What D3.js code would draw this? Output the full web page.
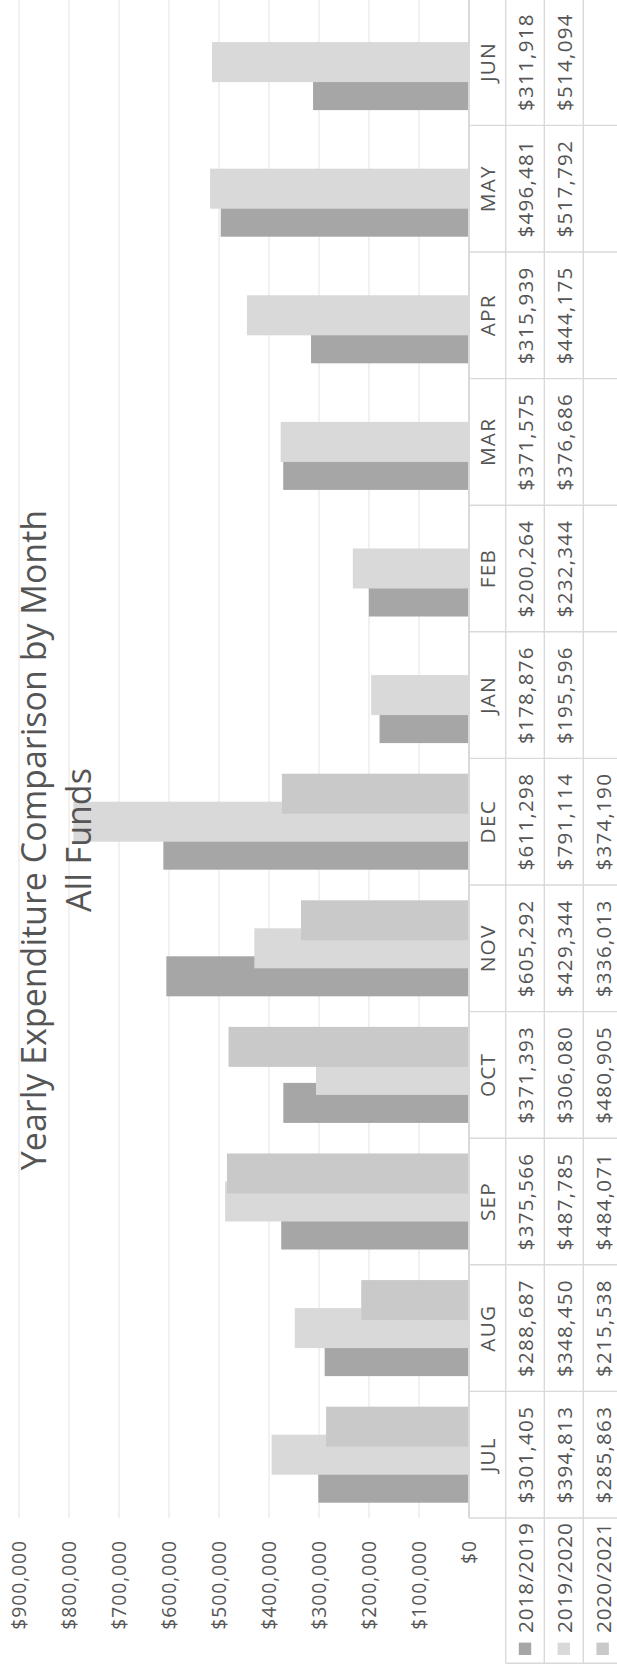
<!DOCTYPE html>
<html>
<head>
<meta charset="utf-8">
<script src="https://cdn.jsdelivr.net/npm/d3@7"></script>
<style>
  html, body { margin: 0; padding: 0; background: #fff; }
  svg { display: block; }
  text { font-family: "Open Sans", "Noto Sans", sans-serif; fill: #555555; }
</style>
</head>
<body>
<script>
// ---- data ----
const months = ["JUL","AUG","SEP","OCT","NOV","DEC","JAN","FEB","MAR","APR","MAY","JUN"];
const seriesNames = ["2018/2019","2019/2020","2020/2021"];
const fy2018 = [301405,288687,375566,371393,605292,611298,178876,200264,371575,315939,496481,311918];
const fy2019 = [394813,348450,487785,306080,429344,791114,195596,232344,376686,444175,517792,514094];
const fy2020 = [285863,215538,484071,480905,336013,374190,null,null,null,null,null,null];
const yTicks = [0,100000,200000,300000,400000,500000,600000,700000,800000,900000];
const titleLines = ["Yearly Expenditure Comparison by Month","All Funds"];
const colors = ["#a6a6a6","#d9d9d9","#c9c9c9"];

const series = [fy2018, fy2019, fy2020];

// ---- layout (chart drawn landscape, then rotated -90deg) ----
const W = 1669, H = 617;
const plotLeft = 151, bandW = 126.6;
const plotRight = plotLeft + bandW * months.length;
const yTop = 19, yBase = 469;
const rowEdges = [469, 505.7, 544.3, 583.3, 622];

const svg = d3.select("body").append("svg")
  .attr("width", H).attr("height", W);
const g = svg.append("g").attr("transform", `translate(0,${W}) rotate(-90)`);

const x = d3.scaleBand().domain(months).range([plotLeft, plotRight]).padding(0);
const y = d3.scaleLinear().domain([0, 900000]).range([yBase, yTop]);

// gridlines
g.append("g").selectAll("line").data(yTicks.filter(d => d > 0)).join("line")
  .attr("x1", plotLeft).attr("x2", plotRight)
  .attr("y1", d => y(d)).attr("y2", d => y(d))
  .attr("stroke", "#ececec").attr("stroke-width", 1.5);

// y axis labels
const yAxis = d3.axisLeft(y).tickValues(yTicks).tickSize(0).tickPadding(22)
  .tickFormat(d => "$" + d3.format(",")(d));
const ya = g.append("g").attr("transform", `translate(${plotLeft},0)`).call(yAxis);
ya.select(".domain").remove();
ya.selectAll("text").attr("font-size", 19.3).attr("letter-spacing", 0.95)
  .attr("fill", "#555555").style("font-family", '"Open Sans", sans-serif');

// bars
const bw = bandW * 0.316;
const step = bw * 0.7;
const groupW = bw + step * (series.length - 1);
series.forEach((vals, si) => {
  g.append("g").selectAll("rect")
    .data(months.map((m, i) => ({m, v: vals[i]})).filter(d => d.v != null))
    .join("rect")
    .attr("x", d => x(d.m) + (bandW - groupW) / 2 + si * step)
    .attr("width", bw)
    .attr("y", d => y(d.v))
    .attr("height", d => yBase - y(d.v))
    .attr("fill", colors[si]);
});

// data table
const tbl = g.append("g");
const lineColor = "#d9d9d9";
rowEdges.forEach((ry, i) => {
  tbl.append("line")
    .attr("x1", i <= 0 ? plotLeft : 5.7).attr("x2", plotRight + 2)
    .attr("y1", ry).attr("y2", ry)
    .attr("stroke", lineColor).attr("stroke-width", i === 0 ? 2 : 1.4);
});
const bounds = months.map(m => x(m)).concat([plotRight]);
tbl.selectAll("line.v").data(bounds).join("line").attr("class", "v")
  .attr("x1", d => d).attr("x2", d => d)
  .attr("y1", rowEdges[0]).attr("y2", rowEdges[rowEdges.length - 1])
  .attr("stroke", lineColor).attr("stroke-width", 1.4);
tbl.append("line").attr("x1", 5.7).attr("x2", 5.7)
  .attr("y1", rowEdges[1]).attr("y2", rowEdges[4])
  .attr("stroke", lineColor).attr("stroke-width", 1.4);

// month row
tbl.selectAll("text.m").data(months).join("text").attr("class", "m")
  .attr("x", d => x(d) + bandW / 2)
  .attr("y", (rowEdges[0] + rowEdges[1]) / 2)
  .attr("text-anchor", "middle").attr("dominant-baseline", "central")
  .attr("font-size", 20.8).attr("letter-spacing", 1.2)
  .text(d => d);

// value rows
const fmt = v => "$" + d3.format(",")(v);
series.forEach((vals, si) => {
  const cy = (rowEdges[si + 1] + rowEdges[si + 2]) / 2;
  tbl.append("g").selectAll("text")
    .data(months.map((m, i) => ({m, v: vals[i]})).filter(d => d.v != null))
    .join("text")
    .attr("x", d => x(d.m) + bandW / 2)
    .attr("y", cy)
    .attr("text-anchor", "middle").attr("dominant-baseline", "central")
    .attr("font-size", 20.5).attr("letter-spacing", 1.3)
    .text(d => fmt(d.v));
  tbl.append("rect").attr("x", 14).attr("y", cy - 6.2)
    .attr("width", 12.4).attr("height", 12.4).attr("fill", colors[si]);
  tbl.append("text").attr("x", 36).attr("y", cy)
    .attr("dominant-baseline", "central")
    .attr("font-size", 20.8).attr("letter-spacing", 0.9)
    .text(seriesNames[si]);
});

// title
g.append("text").attr("x", 829).attr("y", 46)
  .attr("text-anchor", "middle").attr("font-size", 34)
  .text(titleLines[0]);
g.append("text").attr("x", 829).attr("y", 90.7)
  .attr("text-anchor", "middle").attr("font-size", 34)
  .text(titleLines[1]);
</script>
</body>
</html>
